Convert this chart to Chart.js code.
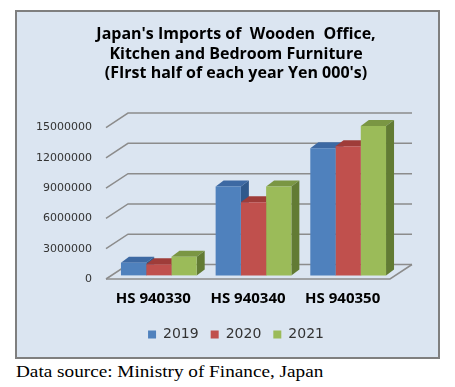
<!DOCTYPE html>
<html>
<head>
<meta charset="utf-8">
<script src="https://cdn.jsdelivr.net/npm/chart.js@4/dist/chart.umd.min.js"></script>
<style>
  body { margin: 0; background: #fff; width: 455px; height: 387px; position: relative; overflow: hidden; }
  #box { position: absolute; left: 15px; top: 10px; width: 421px; height: 345px; border: 2px solid #7f7f7f; background: #dbe5f1; }
  #source { position: absolute; left: 16px; top: 361px; font-family: "Liberation Serif", "Times New Roman", serif; font-size: 17px; line-height: 22px; color: #000; transform: scaleX(1.13); transform-origin: left top; white-space: nowrap; }
</style>
</head>
<body>
<div id="box"><canvas id="chart" width="421" height="345"></canvas></div>
<div id="source">Data source: Ministry of Finance, Japan</div>
<script>
// data
const categories = ['HS 940330', 'HS 940340', 'HS 940350'];
const years = ['2019', '2020', '2021'];
const values2019 = [1250000, 8800000, 12600000];
const values2020 = [1100000, 7250000, 12800000];
const values2021 = [1850000, 8800000, 14800000];
const yTicks = [0, 3000000, 6000000, 9000000, 12000000, 15000000];

const frontColors = ['#4f81bd', '#c0504d', '#9bbb59'];
const topColors = ['#3d69a3', '#9f3c39', '#7a9643'];
const sideColors = ['#30598c', '#83302e', '#627b34'];

// fake 3d: back wall offset and bar depth
const WALL = { dx: 22, dy: -14.5 };
const BAR = { dx: 8, dy: -6, shift: 0.25 };

const pseudo3d = {
  id: 'pseudo3d',
  beforeDatasetsDraw(chart) {
    const ctx = chart.ctx;
    const a = chart.chartArea;
    const y = chart.scales.y;
    ctx.save();
    ctx.strokeStyle = '#8c8c8c';
    ctx.lineWidth = 1.5;
    yTicks.forEach(v => {
      const py = y.getPixelForValue(v);
      ctx.beginPath();
      ctx.moveTo(a.left, py);
      ctx.lineTo(a.left + WALL.dx, py + WALL.dy);
      ctx.lineTo(a.right + WALL.dx, py + WALL.dy);
      ctx.stroke();
    });
    // floor front edge and right side
    ctx.beginPath();
    ctx.moveTo(a.left, a.bottom);
    ctx.lineTo(a.right, a.bottom);
    ctx.lineTo(a.right + WALL.dx, a.bottom + WALL.dy);
    ctx.stroke();
    ctx.restore();

    ctx.save();
    ctx.translate(WALL.dx * BAR.shift, WALL.dy * BAR.shift);
    chart.data.datasets.forEach((ds, i) => {
      const meta = chart.getDatasetMeta(i);
      meta.data.forEach(bar => {
        const l = bar.x - bar.width / 2, r = bar.x + bar.width / 2;
        const t = bar.y, b = bar.base;
        ctx.fillStyle = topColors[i];
        ctx.beginPath();
        ctx.moveTo(l, t);
        ctx.lineTo(l + BAR.dx, t + BAR.dy);
        ctx.lineTo(r + BAR.dx, t + BAR.dy);
        ctx.lineTo(r, t);
        ctx.closePath();
        ctx.fill();
        ctx.fillStyle = sideColors[i];
        ctx.beginPath();
        ctx.moveTo(r, t);
        ctx.lineTo(r + BAR.dx, t + BAR.dy);
        ctx.lineTo(r + BAR.dx, b + BAR.dy);
        ctx.lineTo(r, b);
        ctx.closePath();
        ctx.fill();
      });
    });
  },
  afterDatasetsDraw(chart) {
    chart.ctx.restore();
  }
};

new Chart(document.getElementById('chart'), {
  type: 'bar',
  data: {
    labels: categories,
    datasets: [
      { label: years[0], data: values2019, backgroundColor: frontColors[0] },
      { label: years[1], data: values2020, backgroundColor: frontColors[1] },
      { label: years[2], data: values2021, backgroundColor: frontColors[2] }
    ]
  },
  options: {
    responsive: false,
    animation: false,
    layout: { padding: { left: 17, right: 0, top: 0, bottom: 5.5 } },
    datasets: { bar: { barPercentage: 1, categoryPercentage: 0.8, clip: false } },
    scales: {
      x: {
        afterFit(s) { s.height = 36.5; },
        grid: { display: false, drawTicks: false },
        border: { display: false },
        ticks: { color: '#000', padding: 11, font: { family: 'Open Sans', size: 15, weight: 'bold' } }
      },
      y: {
        min: 0,
        max: 15000000,
        afterBuildTicks(s) { s.ticks = yTicks.map(v => ({ value: v })); },
        afterFit(s) { s.width = 72; },
        grid: { display: false, drawTicks: false },
        border: { display: false },
        ticks: { color: '#333', padding: 14, font: { family: 'DejaVu Sans', size: 11 }, callback: v => String(v) }
      },
      spacer: {
        type: 'linear',
        position: 'right',
        afterFit(s) { s.width = 48; },
        grid: { display: false, drawTicks: false },
        border: { display: false },
        ticks: { display: false }
      }
    },
    plugins: {
      title: {
        display: true,
        text: ["Japan's Imports of  Wooden  Office,", 'Kitchen and Bedroom Furniture', "(FIrst half of each year Yen 000's)"],
        color: '#000',
        font: { family: 'Open Sans', size: 16, weight: 'bold', lineHeight: 1.22 },
        padding: { top: 13, bottom: 44 }
      },
      legend: {
        position: 'bottom',
        labels: { color: '#333', boxWidth: 8, boxHeight: 8, padding: 12, font: { family: 'DejaVu Sans', size: 14 } }
      },
      tooltip: { enabled: false }
    }
  },
  plugins: [pseudo3d]
});
</script>
</body>
</html>
